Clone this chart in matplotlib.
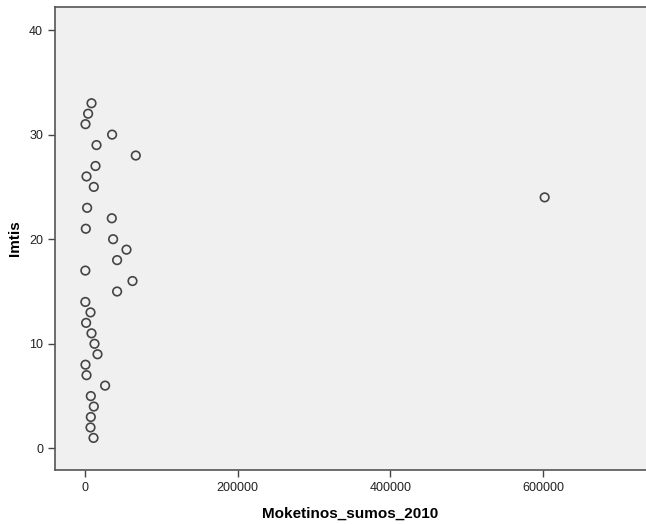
import numpy as np
import matplotlib.pyplot as plt

plt.rcParams['font.family'] = ['Liberation Sans', 'DejaVu Sans']

# imtis (sample number) and payment amounts for 2010
imtis = list(range(1, 34))
moketinos_sumos_2010 = [
    11000, 7070, 7470, 11400, 7470, 26200, 1830, 500, 16240, 12310,
    8380, 1310, 7070, 300, 41920, 62090, 300, 41920, 54230, 36680,
    920, 34980, 2620, 602200, 11400, 1830, 13620, 66400, 14930, 35370,
    500, 3930, 8380,
]

fig = plt.figure(figsize=(6.46, 5.24), dpi=100)
ax = fig.add_axes([0.0851, 0.103, 0.9149, 0.8836])
ax.set_facecolor('#f0f0f0')

ax.scatter(moketinos_sumos_2010, imtis, s=38, facecolors='none',
           edgecolors='#454545', linewidths=1.2, zorder=3)

ax.set_xlim(-39500, 735000)
ax.set_ylim(-2.07, 42.2)
ax.set_xticks([0, 200000, 400000, 600000])
ax.set_yticks([0, 10, 20, 30, 40])

for side in ['left', 'bottom', 'top']:
    ax.spines[side].set_color('#555555')
    ax.spines[side].set_linewidth(1.2)
ax.spines['right'].set_visible(False)

ax.tick_params(axis='both', direction='out', length=5, width=1,
               color='#444444', labelsize=9, labelcolor='#222222')

ax.set_xlabel('Moketinos_sumos_2010', fontsize=11, fontweight='bold')
ax.set_ylabel('Imtis', fontsize=11, fontweight='bold')
ax.xaxis.set_label_coords(0.5, -0.08)
ax.yaxis.set_label_coords(-0.056, 0.5)

fig.savefig('out.png', dpi=100)
